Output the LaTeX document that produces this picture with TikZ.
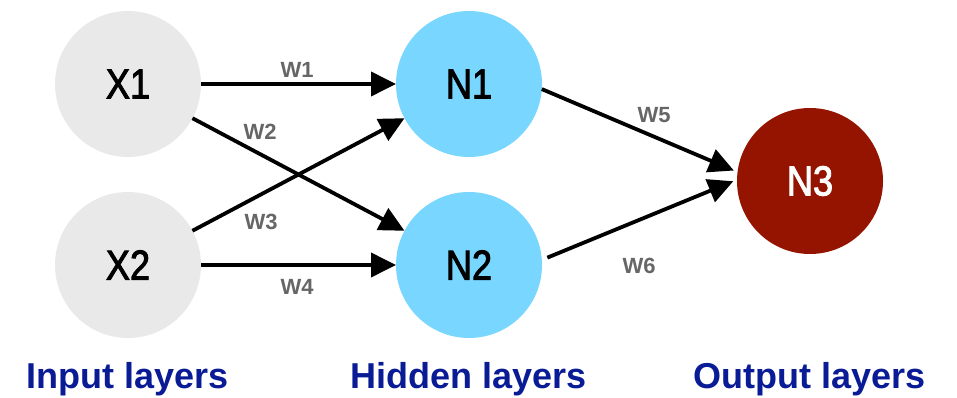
\documentclass[tikz,border=0pt]{standalone}
\usepackage{fontspec}
\setmainfont{Liberation Sans}
\newfontfamily\nodefont[FakeStretch=0.86,FakeBold=2.2]{Liberation Sans}
\newfontfamily\lblfont{Liberation Sans}
\usetikzlibrary{arrows.meta}

\definecolor{inputgray}{HTML}{E9E9E9}
\definecolor{hiddenblue}{HTML}{78D6FF}
\definecolor{outputred}{HTML}{941400}
\definecolor{weightgray}{HTML}{666666}
\definecolor{layerblue}{HTML}{0A1B96}

\tikzset{
  neuron/.style={circle, minimum size=146pt, inner sep=0pt, outer sep=0pt,
    font=\nodefont\fontsize{42}{42}\selectfont},
  innode/.style={neuron, fill=inputgray, text=black},
  hidnode/.style={neuron, fill=hiddenblue, text=black},
  outnode/.style={neuron, fill=outputred, text=white},
  wire/.style={line width=3.8pt, -{Triangle[length=25pt,width=24pt]}},
  weight/.style={text=weightgray, font=\lblfont\bfseries\fontsize{22}{22}\selectfont, inner sep=0pt},
  layer/.style={text=layerblue, font=\lblfont\bfseries\fontsize{36}{36}\selectfont, inner sep=0pt, anchor=base}
}

\begin{document}
\begin{tikzpicture}[x=1pt, y=-1pt]
  \useasboundingbox (0,0) rectangle (957,398);

  % neurons
  \node[innode]  (X1) at (128,84)  {X1};
  \node[innode]  (X2) at (128,265) {X2};
  \node[hidnode] (N1) at (469,84)  {N1};
  \node[hidnode] (N2) at (469,265) {N2};
  \node[outnode] (N3) at (810,181) {N3};

  % input -> hidden connections
  \draw[wire] (X1) -- (N1);
  \draw[wire] (X1) -- (N2);
  \draw[wire] (X2) -- (N1);
  \draw[wire] (X2) -- (N2);

  % hidden -> output connections
  \draw[wire, shorten >=4pt] (N1.-4) -- (N3.173);
  \draw[wire, shorten <=6pt, shorten >=4pt] (N2.4) -- (N3.179);

  % weights
  \node[weight] (w1) at (297,70)  {W1};
  \node[weight] (w2) at (260,132) {W2};
  \node[weight] (w3) at (261,222) {W3};
  \node[weight] (w4) at (297,287) {W4};
  \node[weight] (w5) at (654,115) {W5};
  \node[weight] (w6) at (639,266) {W6};

  % layer captions
  \node[layer] (Lin)  at (128,388) {Input layers};
  \node[layer] (Lhid) at (469,388) {Hidden layers};
  \node[layer] (Lout) at (810,388) {Output layers};
\end{tikzpicture}
\end{document}
